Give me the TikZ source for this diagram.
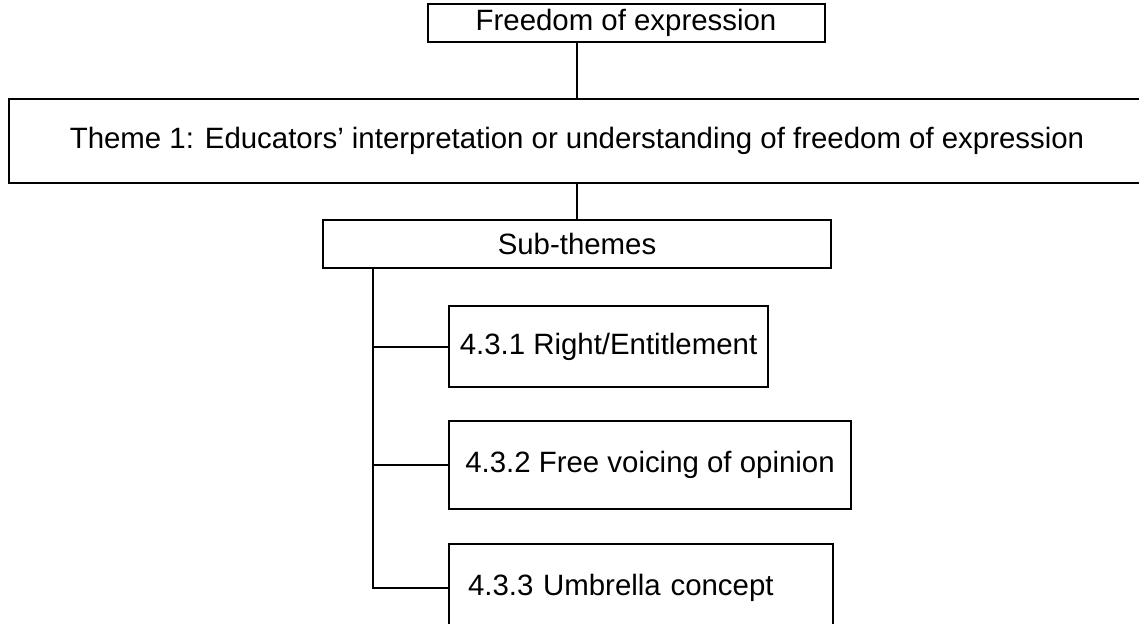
\documentclass[tikz,border=0pt]{standalone}
\usepackage{fontspec}
\setmainfont{Liberation Sans}
\usetikzlibrary{positioning}

\begin{document}
\begin{tikzpicture}[x=1pt, y=-1pt]
    \tikzstyle{every node}=[inner sep=0pt,
				% The border:
      				 draw=black, line width=2pt,
      				% The font:
				font=\fontsize{29.4}{34}\selectfont
					]
    \tikzstyle{subbox}=[anchor=north west]
    \useasboundingbox (0,0) rectangle (1139,623);
    \clip (0,0) rectangle (1139,623);

    \node[minimum width=397pt, minimum height=38pt] (freedom) at (626,23) {Freedom of expression};
    \node[minimum width=1136pt, minimum height=84pt] (theme) at (577,141) {Theme 1: Educators’ interpretation or understanding of freedom of expression};
    \node[minimum width=508pt, minimum height=48pt] (sub) at (577,244) {Sub-themes};

    \node[subbox, minimum width=319pt, minimum height=81pt] (right) at (448,305) {4.3.1 Right/Entitlement};
    \node[subbox, minimum width=402pt, minimum height=88pt] (voice) at (448,420) {4.3.2 Free voicing of opinion};
    \node[subbox, align=left, text width=346pt, inner xsep=19pt, minimum height=87pt] (umbrella) at (448,543) {4.3.3 Umbrella concept};

    \coordinate (trunk) at (373,268);
    \draw[line width=2pt] (theme.north |- freedom.south) -- (theme.north);
    \draw[line width=2pt] (theme.south) -- (sub.north);
    \draw[line width=2pt] (trunk) |- (umbrella.west);
    \draw[line width=2pt] (trunk |- right.west) -- (right.west);
    \draw[line width=2pt] (trunk |- voice.west) -- (voice.west);
\end{tikzpicture}
\end{document}
